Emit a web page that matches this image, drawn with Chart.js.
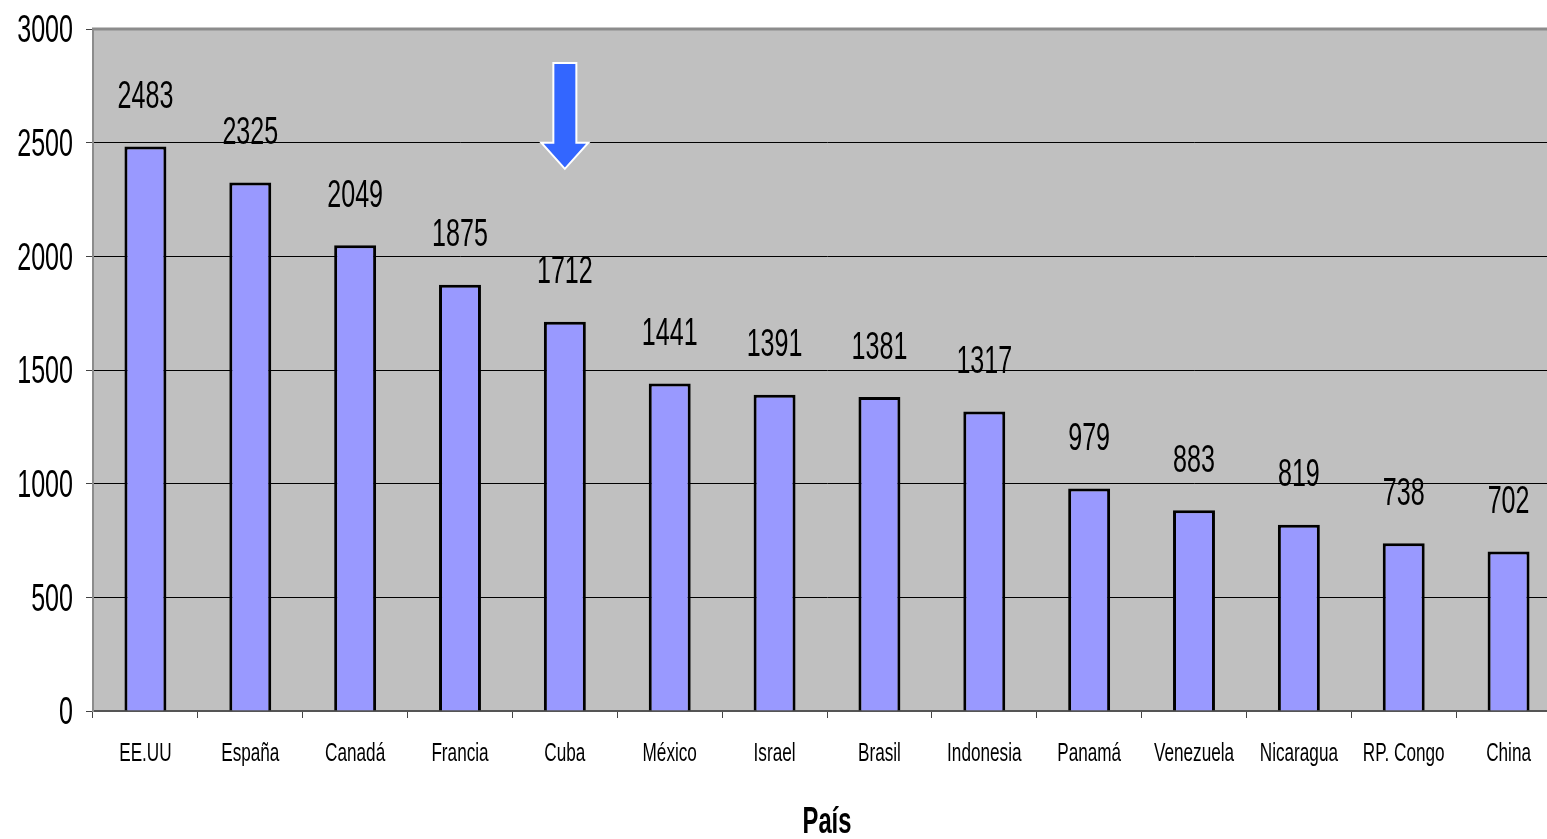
<!DOCTYPE html>
<html>
<head>
<meta charset="utf-8">
<script src="https://cdn.jsdelivr.net/npm/chart.js@4"></script>
<style>
  html, body { margin: 0; padding: 0; background: #fff; overflow: hidden; }
  #wrap { width: 1562px; height: 839px; }
</style>
</head>
<body>
<div id="wrap"><canvas id="myChart"></canvas></div>
<script>
const paises = ['EE.UU', 'España', 'Canadá', 'Francia', 'Cuba', 'México', 'Israel', 'Brasil',
  'Indonesia', 'Panamá', 'Venezuela', 'Nicaragua', 'RP. Congo', 'China']
const valores = [2483, 2325, 2049, 1875, 1712, 1441, 1391, 1381, 1317, 979, 883, 819, 738, 702]
const yTicks = [0, 500, 1000, 1500, 2000, 2500, 3000]
const tituloX = 'País'

const fam = "'Liberation Sans', Arial, sans-serif"
const estrecho = 0.66 // the original uses a narrow face, squeeze text horizontally

function textoEstrecho(ctx, txt, x, y, font, align) {
  ctx.save()
  ctx.font = font
  ctx.textAlign = align
  ctx.textBaseline = 'middle'
  ctx.fillStyle = '#000'
  ctx.translate(x, y)
  ctx.scale(estrecho, 1)
  ctx.fillText(txt, 0, 0)
  ctx.restore()
}

// gray plot area + top border
const fondo = {
  id: 'fondo',
  beforeDraw(chart) {
    const { ctx, chartArea: a } = chart
    ctx.save()
    ctx.fillStyle = '#c0c0c0'
    ctx.fillRect(a.left, a.top, a.right - a.left, a.bottom - a.top)
    ctx.restore()
  },
  afterDatasetsDraw(chart) {
    const { ctx, chartArea: a } = chart
    ctx.save()
    ctx.strokeStyle = '#8c8c8c'
    ctx.lineWidth = 3
    ctx.beginPath()
    ctx.moveTo(a.left - 1, a.top)
    ctx.lineTo(a.right, a.top)
    ctx.stroke()
    ctx.restore()
  }
}

// axis labels, value labels (narrow text)
const textos = {
  id: 'textos',
  afterDraw(chart) {
    const { ctx, chartArea: a } = chart
    const xs = chart.scales.x, ys = chart.scales.y
    yTicks.forEach(v => {
      textoEstrecho(ctx, String(v), a.left - 20, ys.getPixelForValue(v) + 3, '38px ' + fam, 'right')
    })
    paises.forEach((p, i) => {
      textoEstrecho(ctx, p, xs.getPixelForValue(i), a.bottom + 43, '26px ' + fam, 'center')
    })
    textoEstrecho(ctx, tituloX, (a.left + a.right) / 2, a.bottom + 112, 'bold 36px ' + fam, 'center')
    const meta = chart.getDatasetMeta(0)
    meta.data.forEach((bar, i) => {
      textoEstrecho(ctx, String(valores[i]), bar.x, bar.y - 49, '38px ' + fam, 'center')
    })
  }
}

// blue arrow pointing at Cuba
const flecha = {
  id: 'flecha',
  afterDraw(chart) {
    const { ctx } = chart
    const xs = chart.scales.x, ys = chart.scales.y
    const cx = xs.getPixelForValue(paises.indexOf('Cuba'))
    const top = ys.getPixelForValue(2850)
    const base = ys.getPixelForValue(2500)
    const tip = ys.getPixelForValue(2385)
    ctx.save()
    ctx.fillStyle = '#3366ff'
    ctx.strokeStyle = '#ffffff'
    ctx.lineWidth = 2
    ctx.beginPath()
    ctx.moveTo(cx - 11.5, top)
    ctx.lineTo(cx + 11.5, top)
    ctx.lineTo(cx + 11.5, base)
    ctx.lineTo(cx + 23.5, base)
    ctx.lineTo(cx, tip)
    ctx.lineTo(cx - 23.5, base)
    ctx.lineTo(cx - 11.5, base)
    ctx.closePath()
    ctx.fill()
    ctx.stroke()
    ctx.restore()
  }
}

new Chart(document.getElementById('myChart'), {
  type: 'bar',
  data: {
    labels: paises,
    datasets: [{
      data: valores,
      backgroundColor: '#9999ff',
      borderColor: '#000',
      borderWidth: 3,
      borderSkipped: 'bottom',
      barPercentage: 0.4,
      categoryPercentage: 1
    }]
  },
  options: {
    responsive: true,
    maintainAspectRatio: false,
    animation: false,
    layout: { padding: { top: 29, right: 1, left: 0, bottom: 0 } },
    plugins: {
      legend: { display: false },
      tooltip: { enabled: false }
    },
    scales: {
      x: {
        grid: { drawOnChartArea: false, drawTicks: true, tickLength: 7, color: '#444', offset: true },
        border: { color: '#555', width: 2 },
        ticks: { display: false },
        afterFit(scale) { scale.height = 128 }
      },
      y: {
        min: 0,
        max: 3000,
        afterBuildTicks(scale) { scale.ticks = yTicks.map(v => ({ value: v })) },
        grid: { color: '#000', lineWidth: 1, tickLength: 7, tickColor: '#444' },
        border: { color: '#8c8c8c', width: 2 },
        ticks: { display: false },
        afterFit(scale) { scale.width = 93 }
      }
    }
  },
  plugins: [fondo, textos, flecha]
})
</script>
</body>
</html>
